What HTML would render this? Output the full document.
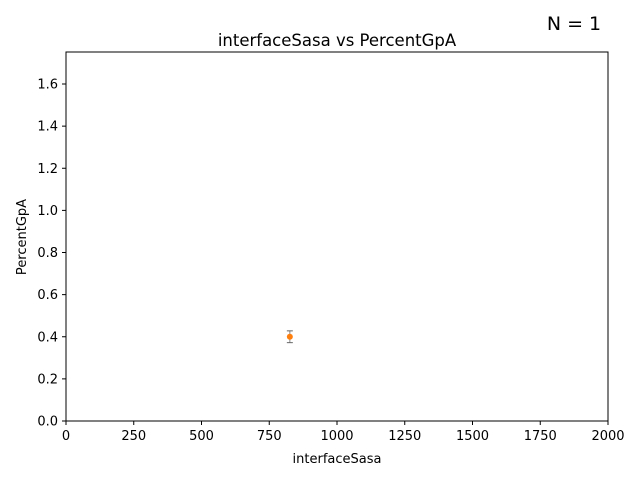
<!DOCTYPE html>
<html><head><meta charset="utf-8"><style>body{margin:0;background:#fff}svg{font-family:"DejaVu Sans","Liberation Sans",sans-serif}</style></head>
<body>
<svg id="c" width="640" height="480"></svg>
<script>
const xValues=[826];
const yValues=[0.4];
const yErrors=[0.028];
const xTicks=[0,250,500,750,1000,1250,1500,1750,2000];
const yTicks=[0.0,0.2,0.4,0.6,0.8,1.0,1.2,1.4,1.6];
const L=66,R=608,T=52,B=421,XMAX=2000,YMAX=1.752;
const sx=v=>L+v/XMAX*(R-L), sy=v=>B-v/YMAX*(B-T);
const s=document.getElementById('c'),NS='http://www.w3.org/2000/svg';
function mk(t,a,txt){const e=document.createElementNS(NS,t);for(const k in a)e.setAttribute(k,a[k]);if(txt!=null)e.textContent=txt;s.appendChild(e);return e;}
let e;
e=mk('rect',{x:L,y:T,width:R-L,height:B-T,fill:'none',stroke:'#000','stroke-width':1});


xTicks.forEach(v=>{const x=sx(v);
e=mk('line',{x1:x,x2:x,y1:B,y2:B+4,stroke:'#000'});


e=mk('text',{x:x,y:B+19,'font-size':13,'text-anchor':'middle'},String(v));

});
yTicks.forEach(v=>{const y=sy(v);
e=mk('line',{x1:L-4,x2:L,y1:y,y2:y,stroke:'#000'});


e=mk('text',{x:L-8,y:y+4.5,'font-size':13,'text-anchor':'end'},v.toFixed(1));

});
xValues.forEach((xv,i)=>{const x=sx(xv),y=sy(yValues[i]),y1=sy(yValues[i]+yErrors[i]),y2=sy(yValues[i]-yErrors[i]);
e=mk('line',{x1:x,x2:x,y1:y1,y2:y2,stroke:'#888','stroke-width':1});


[y1,y2].forEach(yy=>{e=mk('line',{x1:x-3,x2:x+3,y1:yy,y2:yy,stroke:'#666','stroke-width':1});

});
e=mk('circle',{cx:x,cy:y,r:3,fill:'#ff7f0e'});

});
e=mk('text',{x:337,y:46,'font-size':16.5,'text-anchor':'middle'},'interfaceSasa vs PercentGpA');


e=mk('text',{x:337,y:463,'font-size':13,'text-anchor':'middle'},'interfaceSasa');


e=mk('text',{x:26,y:237,'font-size':13,'text-anchor':'middle',transform:'rotate(-90 26 237)'},'PercentGpA');


e=mk('text',{x:574,y:30,'font-size':19,'text-anchor':'middle'},'N = 1');


</script>
</body></html>
